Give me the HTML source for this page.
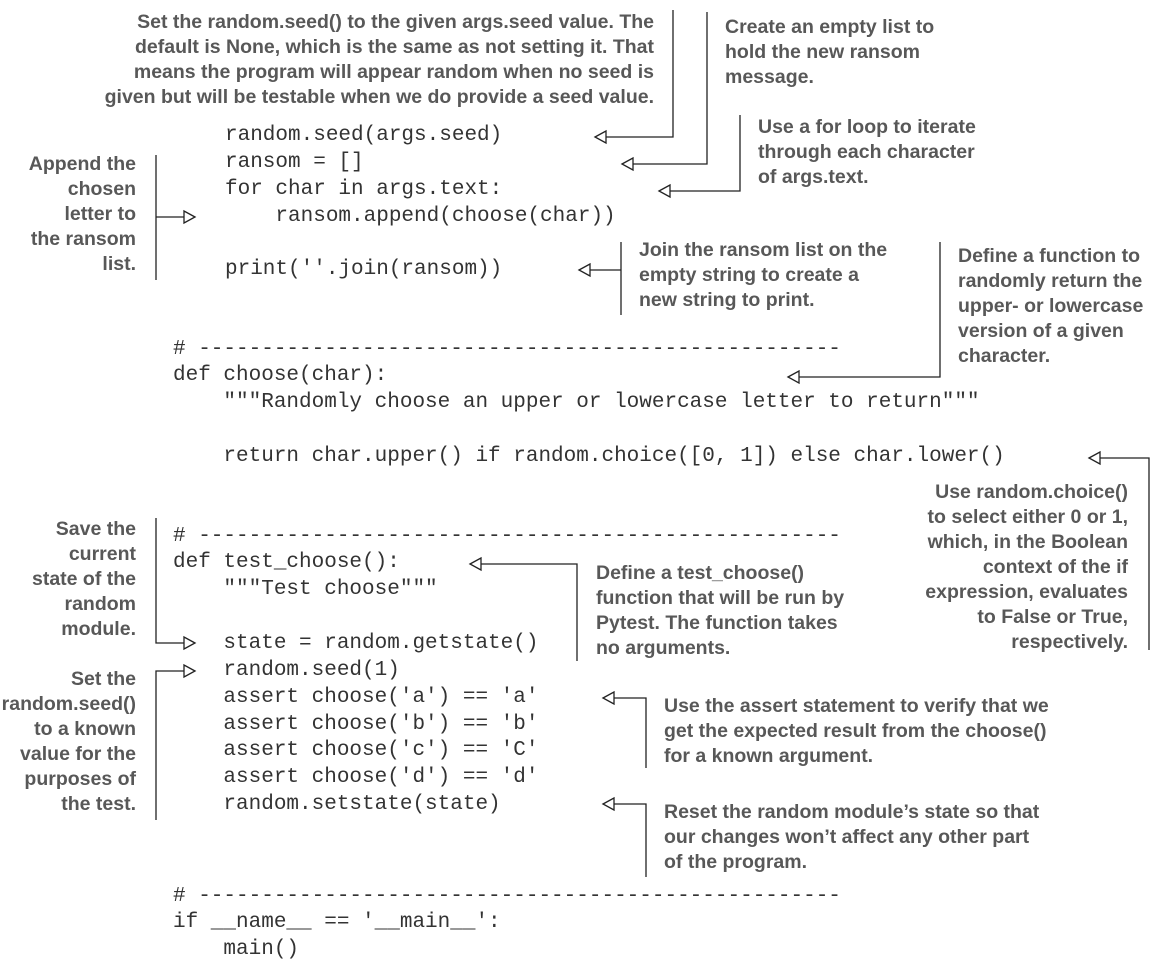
<!DOCTYPE html>
<html><head><meta charset="utf-8"><style>
html,body{margin:0;padding:0;background:#fff;}
#c{position:relative;width:1156px;height:960px;overflow:hidden;background:#fff;}
.code{position:absolute;font-family:"Liberation Mono",monospace;font-size:21px;line-height:27px;color:#333;white-space:pre;}
.lb{position:absolute;font-family:"Liberation Sans",sans-serif;font-weight:bold;font-size:19.5px;line-height:25px;color:#585858;white-space:nowrap;}
.r{text-align:right;}
svg{position:absolute;left:0;top:0;}
</style></head><body><div id="c">
<svg width="1156" height="960" viewBox="0 0 1156 960" fill="none" stroke="#222" stroke-width="1.3">
<polyline points="673,10 673,137 606,137"/><polygon points="595,137 606,131 606,143" fill="#fff"/>
<polyline points="707,12 707,164 633,164"/><polygon points="622,164 633,158 633,170" fill="#fff"/>
<polyline points="740,115 740,191 670,191"/><polygon points="659,191 670,185 670,197" fill="#fff"/>
<polyline points="156,155 156,280"/><polyline points="156,217 184,217"/><polygon points="195,217 184,211 184,223" fill="#fff"/>
<polyline points="621,242 621,315"/><polyline points="621,270 590,270"/><polygon points="579,270 590,264 590,276" fill="#fff"/>
<polyline points="940,242 940,377 799,377"/><polygon points="788,377 799,371 799,383" fill="#fff"/>
<polyline points="1149,650 1149,458 1100,458"/><polygon points="1089,458 1100,452 1100,464" fill="#fff"/>
<polyline points="156,518 156,643 184,643"/><polygon points="195,643 184,637 184,649" fill="#fff"/>
<polyline points="156,820 156,671 184,671"/><polygon points="195,671 184,665 184,677" fill="#fff"/>
<polyline points="577,661 577,564 481,564"/><polygon points="470,564 481,558 481,570" fill="#fff"/>
<polyline points="646,768 646,698 614,698"/><polygon points="603,698 614,692 614,704" fill="#fff"/>
<polyline points="646,877 646,804 614,804"/><polygon points="603,804 614,798 614,810" fill="#fff"/>
</svg>

<div class="code" style="left:225px;top:122px">random.seed(args.seed)</div>
<div class="code" style="left:225px;top:149px">ransom = []</div>
<div class="code" style="left:225px;top:176px">for char in args.text:</div>
<div class="code" style="left:225px;top:203px">    ransom.append(choose(char))</div>
<div class="code" style="left:225px;top:256px">print(''.join(ransom))</div>
<div class="code" style="left:173px;top:336px"># ---------------------------------------------------</div>
<div class="code" style="left:173px;top:362px">def choose(char):</div>
<div class="code" style="left:173px;top:389px">    """Randomly choose an upper or lowercase letter to return"""</div>
<div class="code" style="left:173px;top:443px">    return char.upper() if random.choice([0, 1]) else char.lower()</div>
<div class="code" style="left:173px;top:523px"># ---------------------------------------------------</div>
<div class="code" style="left:173px;top:549px">def test_choose():</div>
<div class="code" style="left:173px;top:576px">    """Test choose"""</div>
<div class="code" style="left:173px;top:630px">    state = random.getstate()</div>
<div class="code" style="left:173px;top:657px">    random.seed(1)</div>
<div class="code" style="left:173px;top:684px">    assert choose('a') == 'a'</div>
<div class="code" style="left:173px;top:711px">    assert choose('b') == 'b'</div>
<div class="code" style="left:173px;top:737px">    assert choose('c') == 'C'</div>
<div class="code" style="left:173px;top:764px">    assert choose('d') == 'd'</div>
<div class="code" style="left:173px;top:791px">    random.setstate(state)</div>
<div class="code" style="left:173px;top:883px"># ---------------------------------------------------</div>
<div class="code" style="left:173px;top:909px">if __name__ == '__main__':</div>
<div class="code" style="left:173px;top:936px">    main()</div>

<div class="lb r" style="right:502px;top:10px">Set the random.seed() to the given args.seed value. The<br>default is None, which is the same as not setting it. That<br>means the program will appear random when no seed is<br>given but will be testable when we do provide a seed value.</div>
<div class="lb" style="left:725px;top:15px">Create an empty list to<br>hold the new ransom<br>message.</div>
<div class="lb" style="left:758px;top:115px">Use a for loop to iterate<br>through each character<br>of args.text.</div>
<div class="lb r" style="right:1020px;top:152px">Append the<br>chosen<br>letter to<br>the ransom<br>list.</div>
<div class="lb" style="left:639px;top:238px">Join the ransom list on the<br>empty string to create a<br>new string to print.</div>
<div class="lb" style="left:958px;top:244px">Define a function to<br>randomly return the<br>upper- or lowercase<br>version of a given<br>character.</div>
<div class="lb r" style="right:28px;top:480px">Use random.choice()<br>to select either 0 or 1,<br>which, in the Boolean<br>context of the if<br>expression, evaluates<br>to False or True,<br>respectively.</div>
<div class="lb r" style="right:1020px;top:517px">Save the<br>current<br>state of the<br>random<br>module.</div>
<div class="lb r" style="right:1020px;top:667px">Set the<br>random.seed()<br>to a known<br>value for the<br>purposes of<br>the test.</div>
<div class="lb" style="left:596px;top:561px">Define a test_choose()<br>function that will be run by<br>Pytest. The function takes<br>no arguments.</div>
<div class="lb" style="left:664px;top:694px">Use the assert statement to verify that we<br>get the expected result from the choose()<br>for a known argument.</div>
<div class="lb" style="left:664px;top:800px">Reset the random module’s state so that<br>our changes won’t affect any other part<br>of the program.</div>
</div></body></html>
